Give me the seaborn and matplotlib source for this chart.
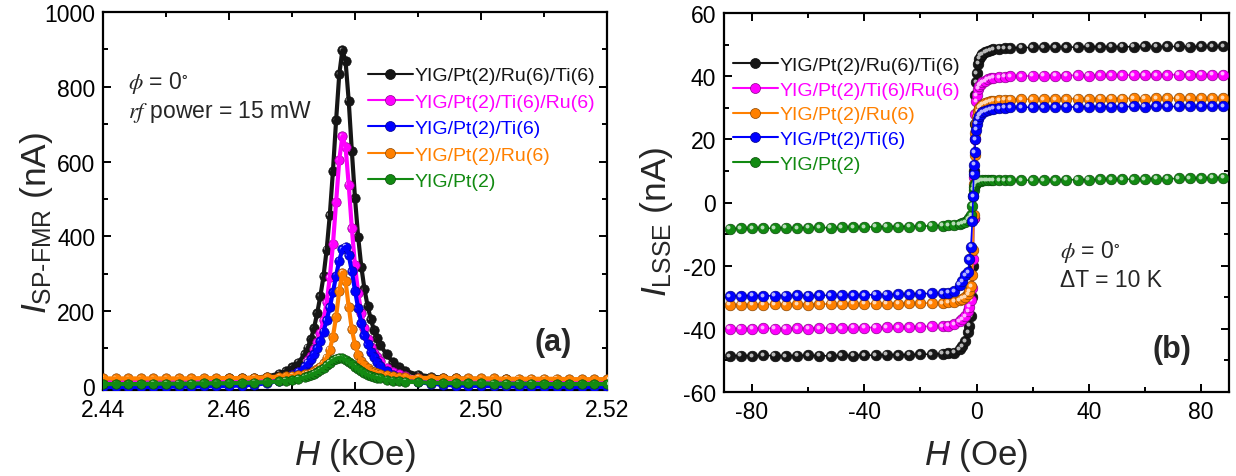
import numpy as np
import pandas as pd
import matplotlib
matplotlib.use("Agg")
import matplotlib.pyplot as plt
import matplotlib.transforms as mtransforms
import matplotlib.colors as mcolors
from matplotlib.lines import Line2D
from matplotlib.ticker import MultipleLocator, FormatStrFormatter
import seaborn as sns

# ---------------- (a) spin-pumping FMR signal ----------------
H_fmr = [2.440, 2.442, 2.444, 2.446, 2.448, 2.450, 2.452, 2.454, 2.456, 2.458,
         2.460, 2.462, 2.464, 2.466, 2.468, 2.469, 2.470, 2.471, 2.472,
         2.4725, 2.473, 2.4735, 2.474, 2.4745, 2.475, 2.4755, 2.476, 2.4765,
         2.477, 2.4775, 2.478, 2.4785, 2.479, 2.4795, 2.480, 2.4805, 2.481,
         2.4815, 2.482, 2.4825, 2.483, 2.4835, 2.484,
         2.485, 2.486, 2.487, 2.488,
         2.490, 2.492, 2.494, 2.496, 2.498, 2.500, 2.502, 2.504, 2.506, 2.508,
         2.510, 2.512, 2.514, 2.516, 2.518, 2.520]

fmr_pt_ru_ti = [17, 17, 17, 18, 18, 18, 18, 19, 19, 19, 20, 20, 22, 25,
                33, 40, 50, 62, 85,
                102, 125, 155, 195, 240, 293, 364, 457, 575, 710, 833, 898, 869,
                763, 628, 502, 399, 319, 259, 214, 179, 150, 128, 110,
                84, 64, 50, 40,
                30, 25, 22, 20, 19, 19, 18, 18, 17, 17, 17, 16, 16, 16, 16, 16]
fmr_pt_ti_ru = [10, 10, 10, 10, 10, 10, 11, 11, 11, 11, 12, 12, 13, 15,
                20, 24, 30, 38, 50,
                68, 80, 98, 117, 142, 176, 224, 290, 379, 491, 604, 668, 639,
                538, 421, 322, 248, 194, 155, 126, 105, 88, 76, 66,
                48, 38, 31, 26,
                20, 16, 14, 13, 12, 12, 11, 11, 11, 10, 10, 10, 10, 10, 10, 10]
fmr_pt_ti = [-3, -3, -3, -3, -3, -2, -2, -2, -1, -1, 0, 1, 3, 7,
             14, 20, 28, 38, 52,
             62, 72, 85, 100, 120, 145, 175, 210, 250, 295, 335, 365, 372,
             350, 306, 255, 208, 168, 136, 111, 91, 76, 64, 54,
             40, 30, 22, 17,
             10, 6, 3, 1, 0, 0, -1, -1, -2, -2, -2, -3, -3, -3, -3, -3]
fmr_pt_ru = [20, 20, 20, 20, 20, 20, 20, 20, 21, 21, 21, 21, 22, 23,
             25, 26, 27, 29, 31,
             33, 35, 39, 44, 51, 61, 75, 97, 132, 185, 255, 303, 280,
             212, 151, 110, 83, 66, 55, 47, 41, 37, 34, 31,
             28, 26, 24, 23,
             22, 21, 21, 20, 20, 20, 20, 19, 19, 19, 19, 19, 18, 18, 18, 18]
fmr_pt = [5, 5, 5, 5, 6, 6, 6, 6, 7, 7, 7, 8, 9, 10,
          12, 14, 16, 19, 23,
          26, 29, 33, 37, 42, 48, 55, 62, 68, 73, 75, 74, 70,
          64, 58, 51, 45, 39, 34, 30, 27, 24, 22, 20,
          17, 14, 13, 11,
          10, 8, 8, 7, 7, 7, 6, 6, 6, 6, 5, 5, 5, 5, 5, 5]

# ---------------- (b) longitudinal spin Seebeck signal ----------------
H_lsse = [-88, -84, -80, -76, -72, -68, -64, -60, -56, -52, -48, -44, -40, -36,
          -32, -28, -24, -20, -16, -12,
          -10, -8, -6, -5, -4, -3, -2.5, -2, -1.5, -1.2, -1.0, -0.8, -0.6,
          -0.4, -0.2, 0, 0.5, 1, 1.5, 2, 3, 4, 5, 6, 8, 10,
          12, 16, 20, 24, 28, 32, 36, 40, 44, 48, 52, 56, 60, 64, 68, 72, 76,
          80, 84, 88]

lsse_pt_ru_ti = [-48.6, -48.5, -48.6, -48.4, -48.5, -48.6, -48.5, -48.4, -48.5, -48.6,
                 -48.4, -48.5, -48.3, -48.4, -48.2, -48.3, -48.2, -48.1, -48.0, -47.9,
                 -47.8, -47.5, -46.5, -45.5, -44, -41, -39, -36, -30, -20, -5, 10, 25,
                 34, 38, 41, 44, 45.5, 46.5, 47, 47.5, 48, 48.3, 48.5, 48.7, 48.8,
                 48.9, 49.0, 49.1, 49.1, 49.2, 49.2, 49.2, 49.3, 49.2, 49.3,
                 49.3, 49.3, 49.4, 49.3, 49.4, 49.4, 49.3, 49.4, 49.4, 49.4]
lsse_pt_ti_ru = [-40.0, -39.9, -40.0, -39.8, -39.9, -40.0, -39.8, -39.9, -39.8, -39.7,
                 -39.8, -39.7, -39.6, -39.6, -39.5, -39.5, -39.4, -39.3, -39.2, -39.1,
                 -39, -38.5, -37.5, -37, -36, -34.5, -33, -31, -27, -18, -5, 8, 20,
                 28, 32, 34, 36, 37, 37.5, 38, 38.5, 39, 39.3, 39.5, 39.7, 39.8,
                 39.9, 40.0, 40.1, 40.1, 40.2, 40.2, 40.3, 40.2, 40.3, 40.3,
                 40.4, 40.3, 40.4, 40.4, 40.4, 40.5, 40.4, 40.5, 40.5, 40.5]
lsse_pt_ru = [-32.4, -32.3, -32.4, -32.3, -32.2, -32.3, -32.2, -32.3, -32.2, -32.1,
              -32.2, -32.1, -32.1, -32.0, -32.0, -32.0, -31.9, -31.9, -31.8, -31.8,
              -31.6, -31.4, -31, -30.5, -30, -29, -28, -26.5, -23, -15, -4, 6, 15,
              22, 25, 27, 29, 30, 30.5, 31, 31.5, 31.8, 32, 32.2, 32.4, 32.5,
              32.6, 32.7, 32.7, 32.8, 32.8, 32.8, 32.9, 32.8, 32.9, 32.9,
              32.9, 33.0, 32.9, 33.0, 33.0, 33.0, 33.0, 33.1, 33.0, 33.1]
lsse_pt_ti = [-29.6, -29.6, -29.5, -29.6, -29.5, -29.5, -29.4, -29.5, -29.4, -29.4,
              -29.3, -29.4, -29.3, -29.2, -29.2, -29.1, -29.0, -28.9, -28.8, -28.7,
              -28.5, -28, -26, -25, -23, -22, -18, -14, -6, 2, 9, 12, 16,
              20, 23, 25, 26.5, 27.5, 28, 28.5, 29, 29.3, 29.5, 29.7, 29.9, 30,
              30.1, 30.1, 30.2, 30.2, 30.2, 30.3, 30.2, 30.3, 30.3, 30.3,
              30.3, 30.4, 30.3, 30.4, 30.4, 30.4, 30.4, 30.4, 30.5, 30.5]
lsse_pt = [-8.3, -8.2, -8.2, -8.1, -8.2, -8.0, -8.1, -8.0, -7.9, -8.0,
           -7.9, -7.8, -7.8, -7.7, -7.7, -7.6, -7.6, -7.5, -7.4, -7.3,
           -7.2, -7.0, -6.8, -6.6, -6.3, -5.5, -5, -4, -1, 2, 4, 5, 5.5,
           6, 6.3, 6.5, 6.7, 6.8, 6.9, 7, 7, 7, 7, 7, 7, 7,
           7.0, 7.0, 7.1, 7.1, 7.1, 7.2, 7.2, 7.2, 7.3, 7.3,
           7.3, 7.4, 7.4, 7.5, 7.5, 7.6, 7.6, 7.7, 7.8, 7.9]

LBL_RU_TI = "YIG/Pt(2)/Ru(6)/Ti(6)"
LBL_TI_RU = "YIG/Pt(2)/Ti(6)/Ru(6)"
LBL_TI = "YIG/Pt(2)/Ti(6)"
LBL_RU = "YIG/Pt(2)/Ru(6)"
LBL_PT = "YIG/Pt(2)"

C_BLACK = "#161616"
C_MAGENTA = "#ff00ff"
C_BLUE = "#0000ff"
C_ORANGE = "#ff8000"
C_GREEN = "#128a12"

# (label, colour, data) in drawing order
fmr_series = [(LBL_RU_TI, C_BLACK, fmr_pt_ru_ti),
              (LBL_TI_RU, C_MAGENTA, fmr_pt_ti_ru),
              (LBL_TI, C_BLUE, fmr_pt_ti),
              (LBL_RU, C_ORANGE, fmr_pt_ru),
              (LBL_PT, C_GREEN, fmr_pt)]
lsse_series = [(LBL_RU_TI, C_BLACK, lsse_pt_ru_ti),
               (LBL_TI_RU, C_MAGENTA, lsse_pt_ti_ru),
               (LBL_RU, C_ORANGE, lsse_pt_ru),
               (LBL_PT, C_GREEN, lsse_pt),
               (LBL_TI, C_BLUE, lsse_pt_ti)]
lsse_legend_order = [LBL_RU_TI, LBL_TI_RU, LBL_RU, LBL_TI, LBL_PT]

sns.set_theme(style="ticks")
plt.rcParams["font.family"] = ["Liberation Sans", "DejaVu Sans"]
plt.rcParams["mathtext.fontset"] = "custom"
plt.rcParams["mathtext.rm"] = "Liberation Sans"
plt.rcParams["mathtext.it"] = "Liberation Sans:italic"
plt.rcParams["mathtext.bf"] = "Liberation Sans:bold"
plt.rcParams["axes.unicode_minus"] = False


def shade(color, f):
    rgb = np.array(mcolors.to_rgb(color))
    if f >= 0:
        return tuple(rgb + (1 - rgb) * f)
    return tuple(rgb * (1 + f))


def spheres(ax, x, y, color, size, z):
    """Shiny ball markers: a filled disc plus a small offset highlight."""
    df = pd.DataFrame({"H": x, "I": y})
    sns.scatterplot(data=df, x="H", y="I", ax=ax, color=color, s=size,
                    edgecolor=shade(color, -0.45), linewidth=0.5,
                    zorder=z, legend=False)
    glint = mtransforms.offset_copy(ax.transData, fig=ax.figure,
                                    x=-1.0, y=1.0, units="points")
    sns.scatterplot(data=df, x="H", y="I", ax=ax,
                    color=shade(color, 0.7), s=size * 0.14, linewidth=0,
                    zorder=z + 0.1, transform=glint, legend=False)


def style_axes(ax):
    for sp in ax.spines.values():
        sp.set_linewidth(1.6)
        sp.set_color("black")
    ax.tick_params(which="both", direction="in", top=True, right=True,
                   width=1.4, colors="black", labelsize=16.5)
    ax.tick_params(which="major", length=6, pad=5.5)
    ax.tick_params(which="minor", length=3.5)
    ax.set_facecolor("white")


fig = plt.figure(figsize=(12.36, 4.77), dpi=100)
fig.patch.set_facecolor("white")
ax1 = fig.add_axes([103 / 1236, 86 / 477, 504 / 1236, 378 / 477])
ax2 = fig.add_axes([724 / 1236, 84 / 477, 505 / 1236, 379 / 477])

# ---- panel (a)
for i, (lbl, col, vals) in enumerate(fmr_series):
    z = 3 + 2 * i
    spheres(ax1, H_fmr, vals, col, 46, z)
    sns.lineplot(x=H_fmr, y=vals, ax=ax1, color=col, lw=3.0, zorder=z + 0.5,
                 estimator=None, legend=False)

ax1.set_xlim(2.44, 2.52)
ax1.set_ylim(-11, 1000)
ax1.xaxis.set_major_locator(MultipleLocator(0.02))
ax1.xaxis.set_minor_locator(MultipleLocator(0.01))
ax1.xaxis.set_major_formatter(FormatStrFormatter("%.2f"))
ax1.yaxis.set_major_locator(MultipleLocator(200))
ax1.yaxis.set_minor_locator(MultipleLocator(100))
style_axes(ax1)
ax1.set_xlabel(r"$H$ (kOe)", fontsize=25)
ax1.set_ylabel(r"$I_{\mathrm{SP‐FMR}}$ (nA)", fontsize=25.5)
ax1.xaxis.set_label_coords(0.5, -0.122)
ax1.yaxis.set_label_coords(-0.095, 0.445)

ax1.text(0.05, 0.815, r"$\phi$ = 0$^{\circ}$", transform=ax1.transAxes,
         fontsize=16.5, va="center", ha="left", math_fontfamily="stix")
ax1.text(0.05, 0.738, r"$rf$ power = 15 mW", transform=ax1.transAxes,
         fontsize=16.5, va="center", ha="left", math_fontfamily="stix")
ax1.text(0.857, 0.127, "(a)", transform=ax1.transAxes, fontsize=22,
         fontweight="bold", va="center", ha="left")


def legend_handles(series, order=None):
    lookup = {lbl: col for lbl, col, _ in series}
    labels = order if order else [lbl for lbl, _, _ in series]
    hs = [Line2D([0], [0], color=lookup[l], lw=1.5, marker="o", markersize=7.2,
                 markerfacecolor=lookup[l], markeredgecolor=shade(lookup[l], -0.45),
                 markeredgewidth=0.5) for l in labels]
    return hs, labels, [lookup[l] for l in labels]


hs, labels, cols = legend_handles(fmr_series)
leg1 = ax1.legend(hs, labels, loc="upper left", bbox_to_anchor=(0.526, 0.855),
                  frameon=False, fontsize=14, handlelength=2.3,
                  handletextpad=0.1, labelspacing=0.45, borderpad=0,
                  borderaxespad=0)
for t, c in zip(leg1.get_texts(), cols):
    t.set_color(c)

# ---- panel (b)
for i, (lbl, col, vals) in enumerate(lsse_series):
    z = 3 + 2 * i
    sns.lineplot(x=H_lsse, y=vals, ax=ax2, color=col, lw=1.2, zorder=z,
                 estimator=None, legend=False)
    spheres(ax2, H_lsse, vals, col, 58, z + 0.3)

ax2.set_xlim(-90, 90)
ax2.set_ylim(-60, 60)
ax2.xaxis.set_major_locator(MultipleLocator(40))
ax2.xaxis.set_minor_locator(MultipleLocator(20))
ax2.yaxis.set_major_locator(MultipleLocator(20))
ax2.yaxis.set_minor_locator(MultipleLocator(10))
style_axes(ax2)
ax2.set_xlabel(r"$H$ (Oe)", fontsize=25)
ax2.set_ylabel(r"$I_{\mathrm{LSSE}}$ (nA)", fontsize=25.5)
ax2.xaxis.set_label_coords(0.5, -0.116)
ax2.yaxis.set_label_coords(-0.097, 0.452)

ax2.text(0.665, 0.372, r"$\phi$ = 0$^{\circ}$", transform=ax2.transAxes,
         fontsize=16.5, va="center", ha="left", math_fontfamily="stix")
ax2.text(0.665, 0.298, "ΔT = 10 K", transform=ax2.transAxes,
         fontsize=16.5, va="center", ha="left")
ax2.text(0.849, 0.113, "(b)", transform=ax2.transAxes, fontsize=22,
         fontweight="bold", va="center", ha="left")

hs, labels, cols = legend_handles(lsse_series, lsse_legend_order)
leg2 = ax2.legend(hs, labels, loc="upper left", bbox_to_anchor=(0.018, 0.886),
                  frameon=False, fontsize=14, handlelength=2.3,
                  handletextpad=0.1, labelspacing=0.37, borderpad=0,
                  borderaxespad=0)
for t, c in zip(leg2.get_texts(), cols):
    t.set_color(c)

fig.savefig("out.png", dpi=100, facecolor="white")
